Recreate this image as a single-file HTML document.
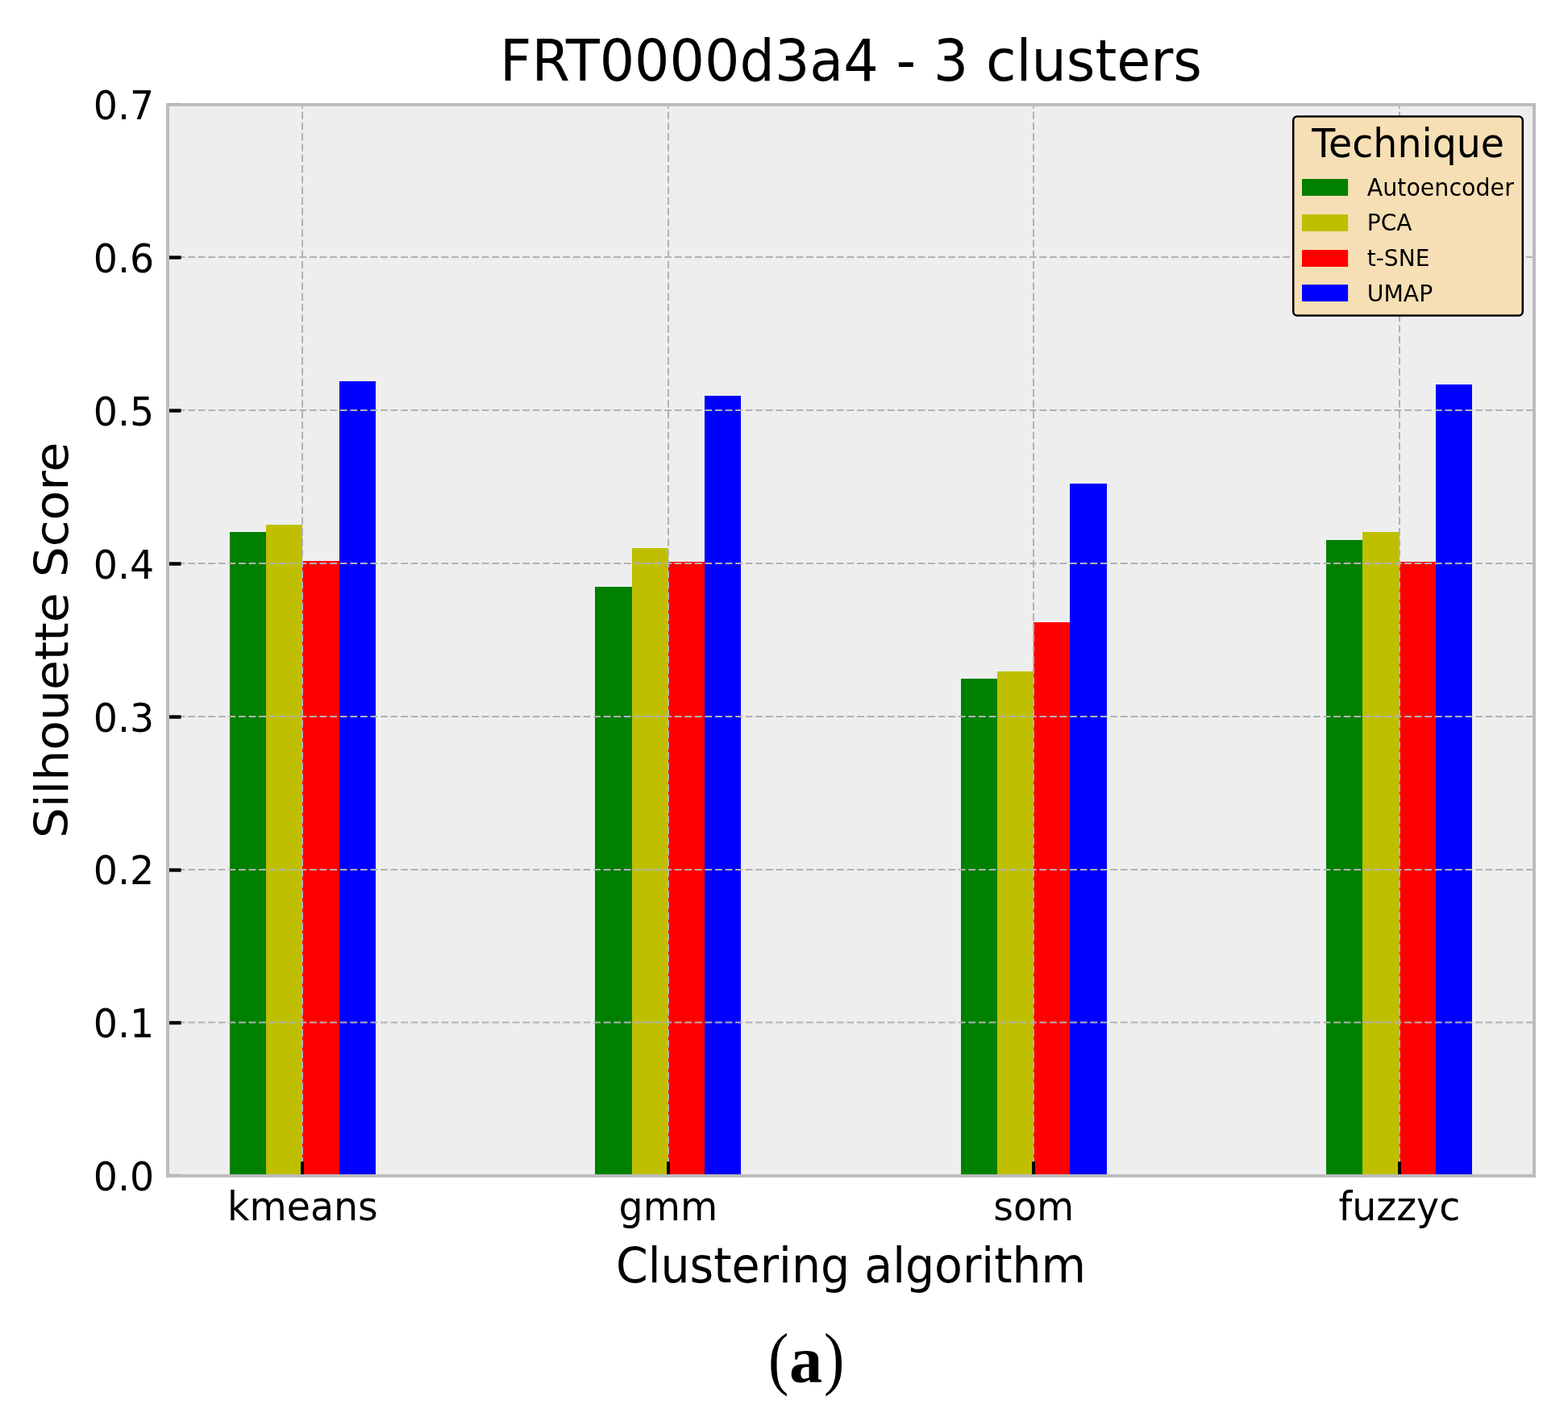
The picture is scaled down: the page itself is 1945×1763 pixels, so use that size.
<!DOCTYPE html>
<html lang="en"><head><meta charset="utf-8">
<title>FRT0000d3a4 - 3 clusters</title>
<style>
html,body{margin:0;padding:0;background:#fff;}
body{width:1945px;height:1763px;overflow:hidden;}
svg{display:block;}
text{font-family:"DejaVu Sans", "Liberation Sans", sans-serif;fill:#000;}
.cap{font-family:"Liberation Serif", "DejaVu Serif", serif;}
</style></head><body>
<svg width="1945" height="1763" viewBox="0 0 1945 1763" role="img" aria-label="Bar chart of silhouette score per clustering algorithm and technique">
<rect x="0" y="0" width="1945" height="1763" fill="#ffffff"/>
<rect x="208.00" y="129.90" width="1695.00" height="1329.00" fill="#eeeeee"/>
<g shape-rendering="crispEdges">
<rect x="285" y="660" width="45" height="799" fill="#008000"/>
<rect x="330" y="651" width="45" height="808" fill="#bfbf00"/>
<rect x="375" y="696" width="46" height="763" fill="#ff0000"/>
<rect x="421" y="473" width="45" height="986" fill="#0000ff"/>
<rect x="738" y="728" width="46" height="731" fill="#008000"/>
<rect x="784" y="680" width="45" height="779" fill="#bfbf00"/>
<rect x="829" y="697" width="45" height="762" fill="#ff0000"/>
<rect x="874" y="491" width="45" height="968" fill="#0000ff"/>
<rect x="1192" y="842" width="45" height="617" fill="#008000"/>
<rect x="1237" y="833" width="45" height="626" fill="#bfbf00"/>
<rect x="1282" y="772" width="45" height="687" fill="#ff0000"/>
<rect x="1327" y="600" width="46" height="859" fill="#0000ff"/>
<rect x="1645" y="670" width="45" height="789" fill="#008000"/>
<rect x="1690" y="660" width="46" height="799" fill="#bfbf00"/>
<rect x="1736" y="697" width="45" height="762" fill="#ff0000"/>
<rect x="1781" y="477" width="45" height="982" fill="#0000ff"/>
</g>
<g stroke="#b2b2b2" fill="none">
<line x1="375.00" y1="1458.40" x2="375.00" y2="129.90" stroke-width="2" stroke-dasharray="9.24 3.996"/>
<line x1="829.00" y1="1458.40" x2="829.00" y2="129.90" stroke-width="2" stroke-dasharray="9.24 3.996"/>
<line x1="1282.00" y1="1458.40" x2="1282.00" y2="129.90" stroke-width="2" stroke-dasharray="9.24 3.996"/>
<line x1="1736.00" y1="1458.40" x2="1736.00" y2="129.90" stroke-width="2" stroke-dasharray="9.24 3.996"/>
<line x1="208.00" y1="1268.60" x2="1903.00" y2="1268.60" stroke-width="2" stroke-dasharray="8.776 3.799"/>
<line x1="208.00" y1="1079.00" x2="1903.00" y2="1079.00" stroke-width="2" stroke-dasharray="8.776 3.799"/>
<line x1="208.00" y1="889.00" x2="1903.00" y2="889.00" stroke-width="2" stroke-dasharray="8.776 3.799"/>
<line x1="208.00" y1="699.00" x2="1903.00" y2="699.00" stroke-width="2" stroke-dasharray="8.776 3.799"/>
<line x1="208.00" y1="509.00" x2="1903.00" y2="509.00" stroke-width="2" stroke-dasharray="8.776 3.799"/>
<line x1="208.00" y1="319.00" x2="1903.00" y2="319.00" stroke-width="2" stroke-dasharray="8.776 3.799"/>
</g>
<g stroke="#000000">
<line x1="208.00" y1="1269.00" x2="224.61" y2="1269.00" stroke-width="4.4"/>
<line x1="208.00" y1="1079.50" x2="224.61" y2="1079.50" stroke-width="4.4"/>
<line x1="208.00" y1="889.50" x2="224.61" y2="889.50" stroke-width="4.4"/>
<line x1="208.00" y1="699.50" x2="224.61" y2="699.50" stroke-width="4.4"/>
<line x1="208.00" y1="509.50" x2="224.61" y2="509.50" stroke-width="4.4"/>
<line x1="208.00" y1="319.50" x2="224.61" y2="319.50" stroke-width="4.4"/>
<line x1="375.00" y1="1458.90" x2="375.00" y2="1441.20" stroke-width="3.9"/>
<line x1="829.00" y1="1458.90" x2="829.00" y2="1441.20" stroke-width="3.9"/>
<line x1="1282.00" y1="1458.90" x2="1282.00" y2="1441.20" stroke-width="3.9"/>
<line x1="1736.00" y1="1458.90" x2="1736.00" y2="1441.20" stroke-width="3.9"/>
</g>
<g fill="#bcbcbc">
<rect x="206" y="128" width="4" height="1332.8"/>
<rect x="1901" y="128" width="4" height="1332.8"/>
<rect x="206" y="128" width="1699" height="3.9"/>
<rect x="206" y="1456.9" width="1699" height="3.9"/>
</g>
<rect x="210" y="128" width="14.5" height="0.9" fill="#a4a4a4"/>
<rect x="210" y="1456.8" width="14.5" height="0.7" fill="#a4a4a4"/>
<text transform="translate(191.20,1477.20) scale(0.9504,1)" font-size="49.94" text-anchor="end">0.0</text>
<text transform="translate(191.20,1287.34) scale(0.9504,1)" font-size="49.94" text-anchor="end">0.1</text>
<text transform="translate(191.20,1097.49) scale(0.9504,1)" font-size="49.94" text-anchor="end">0.2</text>
<text transform="translate(191.20,907.63) scale(0.9504,1)" font-size="49.94" text-anchor="end">0.3</text>
<text transform="translate(191.20,717.77) scale(0.9504,1)" font-size="49.94" text-anchor="end">0.4</text>
<text transform="translate(191.20,527.91) scale(0.9504,1)" font-size="49.94" text-anchor="end">0.5</text>
<text transform="translate(191.20,338.06) scale(0.9504,1)" font-size="49.94" text-anchor="end">0.6</text>
<text transform="translate(191.20,148.20) scale(0.9504,1)" font-size="49.94" text-anchor="end">0.7</text>
<text transform="translate(375.40,1513.80) scale(0.9504,1)" font-size="49.94" text-anchor="middle">kmeans</text>
<text transform="translate(828.90,1513.80) scale(0.9504,1)" font-size="49.94" text-anchor="middle">gmm</text>
<text transform="translate(1282.30,1513.80) scale(0.9504,1)" font-size="49.94" text-anchor="middle">som</text>
<text transform="translate(1735.90,1513.80) scale(0.9504,1)" font-size="49.94" text-anchor="middle">fuzzyc</text>
<text transform="translate(1055.50,99.50) scale(0.9504,1)" font-size="71.91" text-anchor="middle">FRT0000d3a4 - 3 clusters</text>
<text transform="translate(1055.50,1590.60) scale(0.9504,1)" font-size="59.93" text-anchor="middle">Clustering algorithm</text>
<text transform="translate(84.20,794.30) scale(0.9504,1) rotate(-90)" font-size="59.93" text-anchor="middle">Silhouette Score</text>
<rect x="1604.20" y="144.40" width="284.60" height="247.10" rx="5" ry="5" fill="#f6dfb4" stroke="#000000" stroke-width="2.5"/>
<text transform="translate(1746.60,194.60) scale(0.9504,1)" font-size="49.94" text-anchor="middle">Technique</text>
<rect x="1615.00" y="222.00" width="57.10" height="20.90" fill="#008000"/>
<text transform="translate(1695.70,242.70) scale(0.9627,1)" font-size="29.60" text-anchor="start">Autoencoder</text>
<rect x="1615.00" y="266.00" width="57.10" height="20.90" fill="#bfbf00"/>
<text transform="translate(1695.70,286.00) scale(0.9725,1)" font-size="28.90" text-anchor="start">PCA</text>
<rect x="1615.00" y="310.10" width="57.10" height="20.90" fill="#ff0000"/>
<text transform="translate(1695.70,329.90) scale(0.9725,1)" font-size="28.90" text-anchor="start">t-SNE</text>
<rect x="1615.00" y="353.10" width="57.10" height="20.90" fill="#0000ff"/>
<text transform="translate(1695.70,373.60) scale(0.9790,1)" font-size="28.90" text-anchor="start">UMAP</text>
<g class="cap">
<text class="cap" transform="translate(953.00,1714.00) scale(0.8700,1)" font-size="87.40">(</text>
<text class="cap" transform="translate(979.00,1714.60) scale(0.9920,1)" font-size="83.00" font-weight="bold">a</text>
<text class="cap" transform="translate(1022.00,1714.00) scale(0.8700,1)" font-size="87.40">)</text>
</g>
</svg>
</body></html>
